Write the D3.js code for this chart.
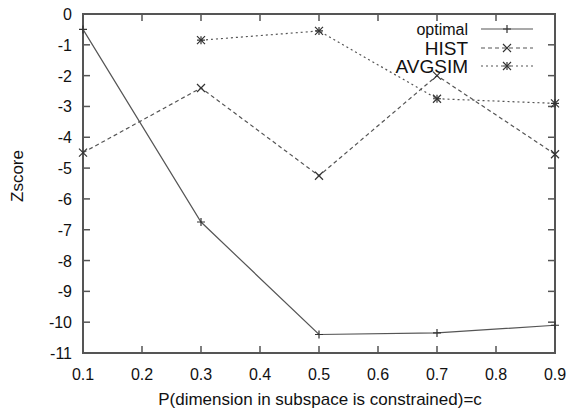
<!DOCTYPE html>
<html>
  <head>
    <meta charset="utf-8" />
    <title>Zscore chart</title>
    <style>
      body { margin: 0; background: #fff; }
      svg { display: block; font-family: "Liberation Sans", Arial, sans-serif; }
      .tick-label { font-size: 16px; fill: #111; }
    </style>
  </head>
  <body>
    <div id="chart"></div>
    <script src="https://d3js.org/d3.v7.min.js"></script>
    <script>
      // data
      var xTicks = [0.1, 0.2, 0.3, 0.4, 0.5, 0.6, 0.7, 0.8, 0.9];
      var yTicks = [0, -1, -2, -3, -4, -5, -6, -7, -8, -9, -10, -11];
      var optimalX = [0.1, 0.3, 0.5, 0.7, 0.9];
      var optimalY = [-0.5, -6.75, -10.4, -10.35, -10.1];
      var histX = [0.1, 0.3, 0.5, 0.7, 0.9];
      var histY = [-4.5, -2.4, -5.25, -2.0, -4.55];
      var avgX = [0.3, 0.5, 0.7, 0.9];
      var avgY = [-0.85, -0.55, -2.75, -2.9];

      // plot box (window.top is taken, so use other names)
      var width = 573, height = 410;
      var plotL = 83, plotR = 555, plotT = 14, plotB = 353;
      var ink = "#555";

      var svg = d3.select("#chart").append("svg")
        .attr("width", width)
        .attr("height", height);

      var x = d3.scaleLinear().domain([0.1, 0.9]).range([plotL, plotR]);
      var y = d3.scaleLinear().domain([-11, 0]).range([plotB, plotT]);

      // inward ticks on all four sides
      var tickLen = 7;
      var g = svg.append("g");
      xTicks.forEach(function(t) {
        g.append("line").attr("x1", x(t)).attr("x2", x(t))
          .attr("y1", plotB).attr("y2", plotB - tickLen)
          .attr("stroke", ink).attr("stroke-width", 1.5);
        g.append("line").attr("x1", x(t)).attr("x2", x(t))
          .attr("y1", plotT).attr("y2", plotT + tickLen)
          .attr("stroke", ink).attr("stroke-width", 1.5);
        g.append("text").attr("class", "tick-label")
          .attr("x", x(t)).attr("y", plotB + 27)
          .attr("text-anchor", "middle")
          .text(d3.format(".1f")(t));
      });
      yTicks.forEach(function(t) {
        g.append("line").attr("x1", plotL).attr("x2", plotL + tickLen)
          .attr("y1", y(t)).attr("y2", y(t))
          .attr("stroke", ink).attr("stroke-width", 1.5);
        g.append("line").attr("x1", plotR).attr("x2", plotR - tickLen)
          .attr("y1", y(t)).attr("y2", y(t))
          .attr("stroke", ink).attr("stroke-width", 1.5);
        g.append("text").attr("class", "tick-label")
          .attr("x", plotL - 11).attr("y", y(t) + 6)
          .attr("text-anchor", "end")
          .text(t);
      });

      // frame
      svg.append("rect")
        .attr("x", plotL).attr("y", plotT)
        .attr("width", plotR - plotL).attr("height", plotB - plotT)
        .attr("fill", "none").attr("stroke", ink).attr("stroke-width", 2);

      // axis titles
      svg.append("text")
        .attr("x", 320).attr("y", 405)
        .attr("text-anchor", "middle")
        .style("font-size", "17px").style("fill", "#111")
        .text("P(dimension in subspace is constrained)=c");
      svg.append("text")
        .attr("transform", "translate(23,176) rotate(-90)")
        .attr("text-anchor", "middle")
        .style("font-size", "17px").style("fill", "#111")
        .text("Zscore");

      // markers
      var s = 4;
      function plus(sel, cx, cy) {
        sel.append("path")
          .attr("d", "M" + (cx - s) + "," + cy + "H" + (cx + s) + "M" + cx + "," + (cy - s) + "V" + (cy + s))
          .attr("stroke", "#333").attr("stroke-width", 1.2).attr("fill", "none");
      }
      function cross(sel, cx, cy) {
        sel.append("path")
          .attr("d", "M" + (cx - s) + "," + (cy - s) + "L" + (cx + s) + "," + (cy + s) +
                     "M" + (cx - s) + "," + (cy + s) + "L" + (cx + s) + "," + (cy - s))
          .attr("stroke", "#333").attr("stroke-width", 1.2).attr("fill", "none");
      }
      function star(sel, cx, cy) {
        plus(sel, cx, cy);
        cross(sel, cx, cy);
      }

      var series = [
        { name: "optimal", xs: optimalX, ys: optimalY, dash: null, mark: plus, size: 16, ly: 29 },
        { name: "HIST", xs: histX, ys: histY, dash: "4,3", mark: cross, size: 19, ly: 48 },
        { name: "AVGSIM", xs: avgX, ys: avgY, dash: "2,3", mark: star, size: 19, ly: 66 }
      ];

      var line = d3.line().x(function(d) { return x(d[0]); }).y(function(d) { return y(d[1]); });

      series.forEach(function(sr) {
        var pts = sr.xs.map(function(v, i) { return [v, sr.ys[i]]; });
        var sg = svg.append("g");
        sg.append("path")
          .attr("d", line(pts))
          .attr("fill", "none")
          .attr("stroke", "#555")
          .attr("stroke-width", 1.2)
          .attr("stroke-dasharray", sr.dash);
        pts.forEach(function(p) { sr.mark(sg, x(p[0]), y(p[1])); });

        // legend entry
        svg.append("text")
          .attr("x", 468).attr("y", sr.ly + sr.size * 0.36)
          .attr("text-anchor", "end")
          .style("font-size", sr.size + "px").style("fill", "#111")
          .text(sr.name);
        svg.append("line")
          .attr("x1", 481).attr("x2", 533)
          .attr("y1", sr.ly).attr("y2", sr.ly)
          .attr("stroke", "#555").attr("stroke-width", 1.2)
          .attr("stroke-dasharray", sr.dash);
        sr.mark(svg, 507, sr.ly);
      });
    </script>
  </body>
</html>
